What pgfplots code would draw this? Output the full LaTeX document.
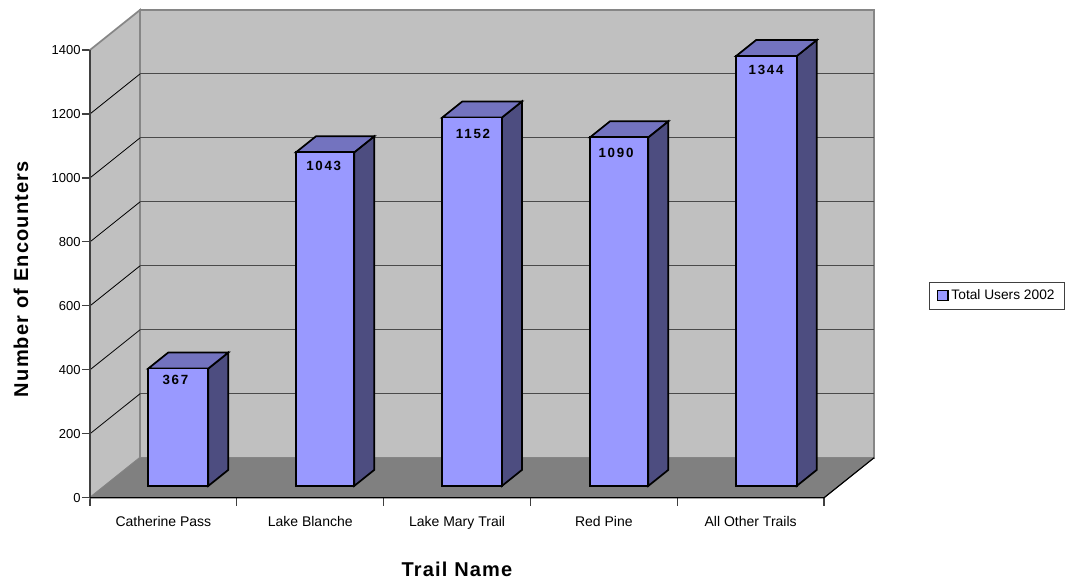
\documentclass[border=0pt]{standalone}
\usepackage{fontspec}
\setmainfont{Liberation Sans}
\newfontfamily\spacedfont[LetterSpace=6]{Liberation Sans}
\newfontfamily\valuefont[LetterSpace=13]{Liberation Sans}
\usepackage{pgfplots}
\pgfplotsset{compat=1.18}
\definecolor{wall}{HTML}{C0C0C0}
\definecolor{floorgray}{HTML}{808080}
\definecolor{rim}{HTML}{868686}
\definecolor{gridline}{HTML}{4A4A4A}
\definecolor{axisdark}{HTML}{404040}
\definecolor{barfront}{HTML}{9999FF}
\definecolor{barside}{HTML}{4D4D80}
\definecolor{bartop}{HTML}{7373BF}
\pgfplotsset{
  seat/.style={forget plot, draw=black, line width=1.3pt, line join=miter,
    y filter/.expression={y+37}},
  backgrid/.style={forget plot, draw=gridline, line width=0.8pt},
  sidegrid/.style={forget plot, draw=black, line width=0.6pt},
}
\begin{document}
\begin{tikzpicture}
\path[use as bounding box] (0,0) rectangle (802.5pt,436.5pt);
\begin{axis}[
  at={(67.5pt,63.2pt)}, anchor=south west,
  scale only axis, width=588pt, height=365.8pt,
  xmin=0, xmax=5.3406, ymin=0, ymax=1525,
  clip=false,
  axis line style={draw=none},
  xtick pos=bottom, ytick pos=left,
  xtick={0.5,1.5,2.5,3.5,4.5},
  xticklabels={Catherine Pass,Lake Blanche,Lake Mary Trail,Red Pine,All Other Trails},
  minor xtick={0,1,2,3,4,5},
  ytick={0,200,400,600,800,1000,1200,1400},
  minor ytick={0,200,400,600,800,1000,1200,1400},
  tickwidth=0pt, subtickwidth=6pt,
  tick align=outside,
  minor tick style={draw=axisdark, line width=0.9pt},
  major tick style={draw=none},
  /pgf/number format/assume math mode=true,
  /pgf/number format/1000 sep={},
  yticklabel style={font=\fontsize{9.75pt}{11pt}\selectfont, inner sep=0pt, xshift=-6.8pt},
  xticklabel style={font=\fontsize{10.5pt}{12pt}\selectfont, inner sep=0pt, yshift=-14pt},
  xlabel={Trail Name},
  ylabel={Number of Encounters},
  x label style={at={(axis description cs:0.468,-0.146)}, anchor=center,
    font=\spacedfont\bfseries\fontsize{15pt}{18pt}\selectfont},
  y label style={at={(axis description cs:-0.088,0.4484)}, anchor=center,
    font=\spacedfont\bfseries\fontsize{15pt}{18pt}\selectfont},
  legend style={at={(axis description cs:1.0705,0.4423)}, anchor=north west,
    draw=axisdark, line width=0.8pt, inner xsep=5.2pt, inner ysep=3.5pt,
    font=\fontsize{10.3pt}{12pt}\selectfont,
    /tikz/every even column/.style={column sep=3.4pt}},
  legend image code/.code={
    \draw[fill=barfront, draw=black, line width=1.2pt] (0pt,-3.6pt) rectangle (7.8pt,3.9pt);},
]
% Chart walls and floor
\addplot[forget plot, fill=wall, draw=rim, line width=1.3pt]
  coordinates {(0.3406,125)(5.3406,125)(5.3406,1525)(0.3406,1525)} --cycle;
\addplot[forget plot, fill=wall, draw=rim, line width=1.3pt]
  coordinates {(0,0)(0.3406,125)(0.3406,1525)(0,1400)} --cycle;
\addplot[forget plot, fill=floorgray, draw=none]
  coordinates {(0,0)(5,0)(5.3406,125)(0.3406,125)} --cycle;

% Gridlines on the back wall
\addplot[backgrid] coordinates {(0.3406,325)(5.3406,325)};
\addplot[backgrid] coordinates {(0.3406,525)(5.3406,525)};
\addplot[backgrid] coordinates {(0.3406,725)(5.3406,725)};
\addplot[backgrid] coordinates {(0.3406,925)(5.3406,925)};
\addplot[backgrid] coordinates {(0.3406,1125)(5.3406,1125)};
\addplot[backgrid] coordinates {(0.3406,1325)(5.3406,1325)};
% Gridlines on the side wall
\addplot[sidegrid] coordinates {(0,200)(0.3406,325)};
\addplot[sidegrid] coordinates {(0,400)(0.3406,525)};
\addplot[sidegrid] coordinates {(0,600)(0.3406,725)};
\addplot[sidegrid] coordinates {(0,800)(0.3406,925)};
\addplot[sidegrid] coordinates {(0,1000)(0.3406,1125)};
\addplot[sidegrid] coordinates {(0,1200)(0.3406,1325)};

% Axis lines and the floor's front right edge
\addplot[forget plot, draw=axisdark, line width=1.3pt] coordinates {(0,0)(0,1400)};
\addplot[forget plot, draw=black, line width=0.9pt] coordinates {(0,0)(5,0)(5.3406,125)};

% Catherine Pass
\addplot[seat, fill=barside] coordinates {(0.806,0)(0.942,50)(0.942,417)(0.806,367)} --cycle;
\addplot[seat, fill=bartop] coordinates {(0.397,367)(0.533,417)(0.942,417)(0.806,367)} --cycle;
\addplot[seat, fill=barfront, forget plot=false]
  coordinates {(0.397,0)(0.806,0)(0.806,367)(0.397,367)} --cycle;
\addlegendentry{Total Users 2002}
% Lake Blanche
\addplot[seat, fill=barside] coordinates {(1.800,0)(1.936,50)(1.936,1093)(1.800,1043)} --cycle;
\addplot[seat, fill=bartop] coordinates {(1.403,1043)(1.539,1093)(1.936,1093)(1.800,1043)} --cycle;
\addplot[seat, fill=barfront] coordinates {(1.403,0)(1.800,0)(1.800,1043)(1.403,1043)} --cycle;
% Lake Mary Trail
\addplot[seat, fill=barside] coordinates {(2.806,0)(2.942,50)(2.942,1202)(2.806,1152)} --cycle;
\addplot[seat, fill=bartop] coordinates {(2.400,1152)(2.536,1202)(2.942,1202)(2.806,1152)} --cycle;
\addplot[seat, fill=barfront] coordinates {(2.400,0)(2.806,0)(2.806,1152)(2.400,1152)} --cycle;
% Red Pine
\addplot[seat, fill=barside] coordinates {(3.803,0)(3.939,50)(3.939,1140)(3.803,1090)} --cycle;
\addplot[seat, fill=bartop] coordinates {(3.406,1090)(3.542,1140)(3.939,1140)(3.803,1090)} --cycle;
\addplot[seat, fill=barfront] coordinates {(3.406,0)(3.803,0)(3.803,1090)(3.406,1090)} --cycle;
% All Other Trails
\addplot[seat, fill=barside] coordinates {(4.814,0)(4.950,50)(4.950,1394)(4.814,1344)} --cycle;
\addplot[seat, fill=bartop] coordinates {(4.401,1344)(4.537,1394)(4.950,1394)(4.814,1344)} --cycle;
\addplot[seat, fill=barfront] coordinates {(4.401,0)(4.814,0)(4.814,1344)(4.401,1344)} --cycle;

% Value labels inside the bars
\addplot[forget plot, draw=none, mark=none,
  nodes near coords, point meta=explicit symbolic,
  every node near coord/.append style={anchor=center, inner sep=0pt,
    font=\valuefont\bfseries\fontsize{10pt}{11pt}\selectfont}]
  coordinates {
    (0.582,367.8) [367]
    (1.592,1036.6) [1043]
    (2.609,1136.6) [1152]
    (3.583,1078) [1090]
    (4.605,1336.6) [1344]
  };
\end{axis}
\end{tikzpicture}
\end{document}
